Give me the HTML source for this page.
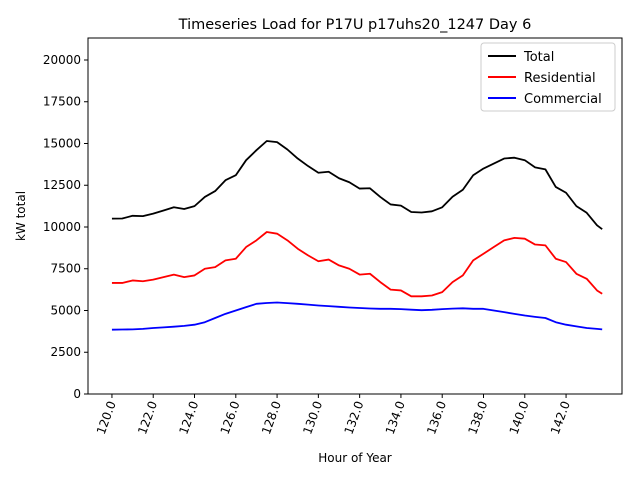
<!DOCTYPE html>
<html><head><meta charset="utf-8"><style>
body{margin:0;background:#fff;}
svg text{font-family:"DejaVu Sans","Liberation Sans",sans-serif;fill:#000;}
</style></head><body>
<svg id="chart" width="640" height="480">
<text x="355" y="29" font-size="14.5" text-anchor="middle">Timeseries Load for P17U p17uhs20_1247  Day 6</text>
<g id="axes"></g><g id="lines"></g>
<text x="355" y="462" font-size="12" text-anchor="middle">Hour of Year</text>
<text x="0" y="0" font-size="12" text-anchor="middle" transform="translate(25,216) rotate(-90)">kW total</text>
<g>
<rect x="481" y="43" width="134" height="68" fill="#fff" stroke="#ccc" rx="3"/>
<line x1="488" y1="56" x2="516" y2="56" stroke="#000" stroke-width="2"/><text x="524" y="61" font-size="13">Total</text>
<line x1="488" y1="77" x2="516" y2="77" stroke="#f00" stroke-width="2"/><text x="524" y="82" font-size="13">Residential</text>
<line x1="488" y1="98" x2="516" y2="98" stroke="#00f" stroke-width="2"/><text x="524" y="103" font-size="13">Commercial</text>
</g>
</svg>
<script>
const hours=[120,120.5,121,121.5,122,122.5,123,123.5,124,124.5,125,125.5,126,126.5,127,127.5,128,128.5,129,129.5,130,130.5,131,131.5,132,132.5,133,133.5,134,134.5,135,135.5,136,136.5,137,137.5,138,138.5,139,139.5,140,140.5,141,141.5,142,142.5,143,143.5,143.75];
const residential=[6650,6650,6800,6750,6850,7000,7150,7000,7100,7500,7600,8000,8100,8800,9200,9700,9600,9200,8700,8300,7950,8050,7700,7500,7150,7200,6700,6250,6200,5850,5850,5900,6100,6700,7100,8000,8400,8800,9200,9350,9300,8950,8900,8100,7900,7200,6900,6200,6000];
const commercial=[3850,3860,3870,3900,3950,3990,4030,4080,4150,4300,4550,4800,5000,5200,5400,5450,5480,5440,5400,5350,5300,5260,5220,5180,5150,5120,5100,5100,5080,5050,5020,5040,5080,5110,5130,5100,5100,5000,4900,4800,4700,4620,4550,4300,4150,4050,3950,3900,3870];
const total=[10500,10510,10670,10650,10800,10990,11180,11080,11250,11800,12150,12800,13100,14000,14600,15150,15080,14640,14100,13650,13250,13310,12920,12680,12300,12320,11800,11350,11280,10900,10870,10940,11180,11810,12230,13100,13500,13800,14100,14150,14000,13570,13450,12400,12050,11250,10850,10100,9870];
const xTicks=[120,122,124,126,128,130,132,134,136,138,140,142];
const yTicks=[0,2500,5000,7500,10000,12500,15000,17500,20000];
const L=88,R=622,T=38,B=394,xmin=118.84,xmax=144.71,ymin=0,ymax=21317;
const sx=v=>L+(v-xmin)/(xmax-xmin)*(R-L);
const sy=v=>B-(v-ymin)/(ymax-ymin)*(B-T);
const NS="http://www.w3.org/2000/svg";
const ax=document.getElementById('axes'),ln=document.getElementById('lines');
function mk(tag,attrs,parent){const e=document.createElementNS(NS,tag);for(const k in attrs)e.setAttribute(k,attrs[k]);parent.appendChild(e);return e;}
const frame=mk('rect',{x:L,y:T,width:R-L,height:B-T,fill:'none',stroke:'#000','stroke-width':1},ax);


xTicks.forEach(t=>{const x=sx(t);
mk('line',{x1:x,y1:B,x2:x,y2:B+4,stroke:'#000'},ax);
const tx=mk('text',{x:0,y:0,'font-size':12,'text-anchor':'end',transform:`translate(${x+4},${B+9}) rotate(-70)`},ax);
tx.textContent=t.toFixed(1);

});
yTicks.forEach(t=>{const y=sy(t);
mk('line',{x1:L-4,y1:y,x2:L,y2:y,stroke:'#000'},ax);
const tx=mk('text',{x:L-7,y:y+4,'font-size':12,'text-anchor':'end'},ax);
tx.textContent=t;

});
[[total,'#000','total-line'],[residential,'#f00','residential-line'],[commercial,'#00f','commercial-line']].forEach(([d,c,n])=>{
const p=mk('polyline',{points:d.map((v,i)=>sx(hours[i])+','+sy(v)).join(' '),fill:'none',stroke:c,'stroke-width':1.8,'stroke-linejoin':'round'},ln);

});
</script>
</body></html>
